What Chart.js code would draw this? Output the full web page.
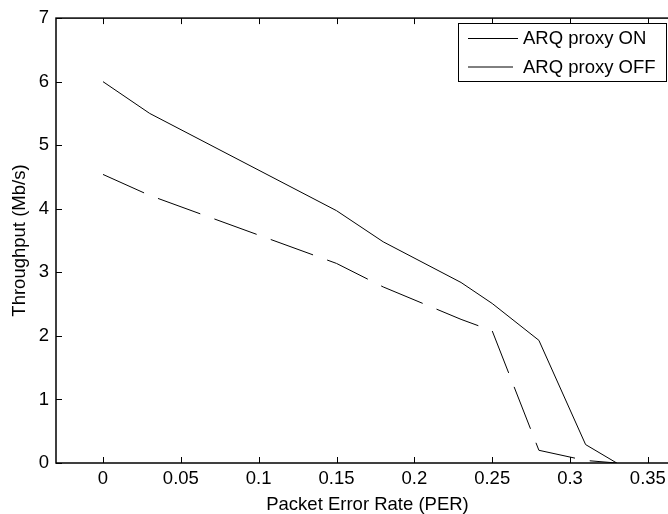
<!DOCTYPE html>
<html>
<head>
<meta charset="utf-8">
<script src="https://cdn.jsdelivr.net/npm/chart.js@4/dist/chart.umd.min.js"></script>
<style>
  html, body { margin: 0; padding: 0; background: #fff; overflow: hidden; }
  #wrap { width: 682px; height: 514px; }
</style>
</head>
<body>
<div id="wrap"><canvas id="chart1" width="682" height="514"></canvas></div>
<script>
// packet error rate vs throughput, with and without the ARQ proxy
const per = [0, 0.03, 0.15, 0.18, 0.23, 0.25, 0.28, 0.31, 0.33];
const proxyOn = [6.0, 5.5, 3.97, 3.48, 2.84, 2.51, 1.93, 0.29, 0];
const proxyOff = [4.54, 4.21, 3.14, 2.77, 2.26, 2.08, 0.2, 0.04, 0];

const xTicks = [0, 0.05, 0.1, 0.15, 0.2, 0.25, 0.3, 0.35];
const yTicks = [0, 1, 2, 3, 4, 5, 6, 7];

Chart.defaults.font.family = "'Liberation Sans', Arial, sans-serif";
Chart.defaults.font.size = 18.5;
Chart.defaults.color = "#000";

// box, inward ticks and a boxed legend
const matlabAxes = {
  id: "matlabAxes",
  afterDraw(chart) {
    const { ctx, chartArea: a, scales } = chart;
    ctx.save();
    ctx.strokeStyle = "#000";
    ctx.lineWidth = 1;
    ctx.beginPath();
    xTicks.forEach((v) => {
      const px = Math.round(scales.x.getPixelForValue(v)) + 0.5;
      ctx.moveTo(px, a.bottom);
      ctx.lineTo(px, a.bottom - 6);
      ctx.moveTo(px, a.top);
      ctx.lineTo(px, a.top + 6);
    });
    yTicks.forEach((v) => {
      const py = Math.round(scales.y.getPixelForValue(v)) + 0.5;
      ctx.moveTo(a.left, py);
      ctx.lineTo(a.left + 6, py);
      ctx.moveTo(a.right, py);
      ctx.lineTo(a.right - 6, py);
    });
    ctx.stroke();
    ctx.lineWidth = 1.5;
    ctx.strokeRect(a.left, a.top, a.right - a.left, a.bottom - a.top);

    // legend
    const lx = 458.5, ly = 23.5, lw = 208, lh = 58;
    ctx.fillStyle = "#fff";
    ctx.fillRect(lx, ly, lw, lh);
    ctx.lineWidth = 1;
    ctx.strokeRect(lx, ly, lw, lh);
    const rows = [38, 66.5];
    chart.data.datasets.forEach((ds, i) => {
      ctx.beginPath();
      ctx.setLineDash(ds.borderDash || []);
      ctx.moveTo(468, rows[i] + 0.5);
      ctx.lineTo(518, rows[i] + 0.5);
      ctx.stroke();
      ctx.setLineDash([]);
      ctx.fillStyle = "#000";
      ctx.font = "18.5px 'Liberation Sans', Arial, sans-serif";
      ctx.textBaseline = "middle";
      ctx.fillText(ds.label, 523, rows[i] + 1);
    });
    ctx.restore();
  },
};

new Chart("chart1", {
  type: "line",
  data: {
    labels: per,
    datasets: [
      {
        label: "ARQ proxy ON",
        data: per.map((x, i) => ({ x: x, y: proxyOn[i] })),
        borderColor: "#000",
        borderWidth: 1,
        pointRadius: 0,
        tension: 0,
        fill: false,
      },
      {
        label: "ARQ proxy OFF",
        data: per.map((x, i) => ({ x: x, y: proxyOff[i] })),
        borderColor: "#000",
        borderWidth: 1,
        borderDash: [45, 15],
        pointRadius: 0,
        tension: 0,
        fill: false,
      },
    ],
  },
  options: {
    responsive: false,
    animation: false,
    events: [],
    layout: { padding: { top: 15, right: 3, left: 0, bottom: 0 } },
    plugins: {
      legend: { display: false },
      tooltip: { enabled: false },
    },
    scales: {
      x: {
        type: "linear",
        min: -0.0302,
        max: 0.37,
        grid: { display: false, drawTicks: false },
        border: { display: false },
        afterBuildTicks: (s) => { s.ticks = xTicks.map((v) => ({ value: v })); },
        afterFit: (s) => { s.height = 51; },
        ticks: {
          padding: 5,
          autoSkip: false,
          maxRotation: 0,
          callback: (v) => String(v),
        },
        title: {
          display: true,
          text: "Packet Error Rate (PER)",
          font: { size: 18.5, lineHeight: 1 },
          padding: { top: 0, bottom: 0 },
        },
      },
      y: {
        type: "linear",
        min: 0,
        max: 7,
        grid: { display: false, drawTicks: false },
        border: { display: false },
        afterBuildTicks: (s) => { s.ticks = yTicks.map((v) => ({ value: v })); },
        afterFit: (s) => { s.width = 56; },
        ticks: { padding: 7, callback: (v) => String(v) },
        title: {
          display: true,
          text: "Throughput (Mb/s)",
          font: { size: 18.5, lineHeight: 1 },
          padding: { top: 10.75, bottom: 0 },
        },
      },
    },
  },
  plugins: [matlabAxes],
});
</script>
</body>
</html>
